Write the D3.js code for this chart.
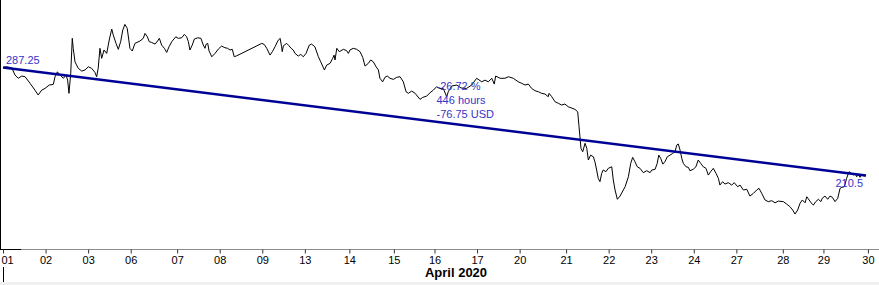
<!DOCTYPE html>
<html><head><meta charset="utf-8">
<script src="https://cdn.jsdelivr.net/npm/d3@7"></script>
<style>
html,body{margin:0;padding:0;background:#fff;overflow:hidden;}
svg{display:block;font-family:"Liberation Sans",Arial,sans-serif;}
</style></head><body>
<svg id="chart" width="879" height="285"></svg>
<script>
// [hour offset from 01 April session open, price in USD]
const priceSeries = [
[0,287.25],[1.9,287.8],[4.5,287.1],[6.2,281.9],[7.9,279.6],[9.7,281.2],[11.4,280.7],[14.0,276.0],[16.5,271.2],[18.2,267.7],[20.0,271.2],[21.7,272.4],[23.9,274.8],[26.0,275.3],[26.9,280.7],[28.1,284.2],[29.5,281.9],[31.2,279.6],[32.6,281.9],[33.4,278.3],[34.1,268.9],[35.0,283.1],[35.8,308.0],[36.3,300.9],[37.2,291.3],[38.9,286.7],[40.7,284.7],[42.4,285.5],[44.1,287.8],[45.8,286.7],[47.5,283.8],[48.4,280.7],[49.2,286.7],[50.1,300.9],[51.0,293.8],[52.2,299.7],[53.6,297.3],[54.9,306.8],[56.2,314.6],[57.0,310.3],[58.4,304.4],[59.6,300.2],[60.8,305.6],[61.9,313.9],[63.0,317.9],[64.2,315.1],[65.6,300.9],[66.8,299.0],[68.2,304.4],[70.8,306.1],[72.5,308.0],[73.4,311.5],[74.6,309.1],[75.6,305.6],
[76.8,305.1],[78.6,303.9],[79.9,306.1],[80.8,308.0],[82.0,303.2],[83.4,300.9],[84.6,298.0],[85.8,302.0],[87.2,305.6],[89.3,309.1],[90.6,308.0],[92.4,308.4],[93.7,310.8],[94.9,309.1],[95.8,305.6],[96.6,299.7],[97.8,303.2],[98.9,307.5],[100.6,308.4],[102.3,308.0],[103.5,303.2],[104.4,300.9],[104.9,303.7],[105.8,304.4],[106.5,299.0],[107.9,294.9],[109.6,297.3],[111.3,300.4],[113.0,302.5],[114.7,301.3],[116.1,300.9],[117.3,299.7],[118.5,300.2],[119.5,294.9],[120.8,295.6],[125.1,298.5],[130.2,302.0],[133.7,304.4],[135.0,303.7],[136.3,300.9],[138.0,296.1],[139.2,298.5],[140.6,302.0],[142.0,306.1],[143.2,308.0],[144.0,302.0],[144.3,298.5],[144.9,302.7],[146.6,304.4],[147.8,302.7],[148.9,300.9],[150.0,299.7],[150.9,297.3],
[152.6,295.4],[153.9,296.6],[155.2,294.9],[156.6,297.3],[158.3,303.2],[159.5,303.9],[161.2,302.0],[163.0,294.9],[164.2,291.3],[166.1,285.5],[167.3,289.0],[169.0,290.2],[170.4,293.8],[171.1,296.1],[171.6,292.6],[172.5,300.9],[173.8,298.5],[175.9,300.2],[177.6,299.2],[178.5,297.3],[179.3,299.7],[181.0,300.9],[182.8,300.2],[184.5,298.5],[185.9,294.5],[187.1,288.3],[188.8,290.2],[190.0,292.6],[191.4,291.3],[192.8,287.8],[194.0,285.5],[194.8,279.6],[196.2,277.1],[197.4,280.3],[198.6,281.2],[200.0,279.6],[201.7,278.8],[203.5,280.3],[205.2,280.7],[206.9,277.1],[208.3,270.0],[209.5,268.9],[211.2,270.5],[213.0,268.9],[214.1,267.0],[215.5,264.6],[216.9,266.0],[219.0,267.0],[220.7,269.3],[222.4,271.2],[224.1,273.6],[225.5,272.4],
[227.5,272.4],[229.3,266.5],[230.1,270.0],[231.9,274.1],[234.5,274.8],[236.7,272.7],[239.6,272.4],[242.2,274.8],[244.8,279.6],[247.4,277.1],[249.1,278.3],[250.8,277.1],[252.6,279.6],[253.9,275.5],[254.6,281.2],[256.9,279.6],[259.4,279.6],[261.2,280.7],[263.7,279.6],[266.3,277.1],[268.1,276.0],[269.8,274.8],[271.5,275.5],[273.2,272.4],[275.0,270.7],[276.7,270.0],[278.4,268.9],[280.1,268.4],[281.8,266.5],[282.2,268.9],[283.6,266.5],[285.3,262.9],[287.0,261.8],[288.7,260.6],[290.4,261.3],[292.1,259.4],[295.6,257.5],[297.0,255.8],[297.7,245.2],[298.7,229.8],[299.6,227.4],[300.8,233.4],[301.7,229.8],[302.5,221.5],[303.7,225.0],[305.1,223.8],[305.9,220.3],[306.8,214.4],[307.6,208.5],[308.5,206.1],[309.4,212.0],[310.2,214.4],[311.6,213.2],[312.8,215.6],[314.6,216.7],[315.4,207.3],[316.3,200.2],[317.5,193.6],[318.9,195.9],[320.6,200.2],[321.5,202.5],[323.2,209.6],[324.4,219.1],[325.4,223.4],[326.6,220.3],[327.8,216.7],[329.2,215.6],[330.9,212.5],[332.7,213.9],[334.4,212.5],[335.3,214.4],[337.0,214.9],[338.1,219.1],[338.9,225.0],[339.9,222.7],[341.0,218.6],[342.1,220.3],[343.3,223.8],[344.7,225.0],[346.1,226.2],[347.3,227.4],[348.2,232.1],[349.0,232.9],[349.9,228.6],[350.8,222.7],[351.6,219.1],[353.0,216.7],[354.2,216.3],[355.0,213.9],[356.7,214.9],[358.1,216.7],[359.3,221.5],[360.6,219.1],[361.9,216.7],[363.3,215.6],[364.5,210.8],[365.7,213.2],[367.1,215.6],[368.5,212.0],[369.7,208.5],[370.5,203.7],[371.9,206.1],[373.1,204.4],[374.8,205.4],[376.6,203.7],[377.9,205.4],[379.7,202.5],[380.9,203.7],[382.6,200.2],[384.4,200.7],[386.0,195.9],[387.8,197.8],[389.5,200.2],[390.7,201.4],[392.1,197.8],[393.8,193.1],[395.5,191.9],[397.3,192.6],[399.0,191.1],[400.7,192.3],[403.3,191.9],[405.0,190.2],[406.7,188.3],[408.1,186.0],[409.3,183.1],[410.7,186.0],[411.9,190.7],[413.1,193.1],[414.5,191.1],[415.4,195.4],[416.6,193.1],[417.6,191.1],[418.8,189.5],[420.0,191.9],[421.4,193.6],[422.7,191.9],[423.4,194.3],[424.8,195.9],[426.2,193.6],[427.4,195.9],[428.6,195.0],[430.0,191.9],[431.4,194.3],[432.6,201.4],[433.5,202.1],[434.8,202.5],[436.0,208.5],[437.2,213.2],[438.3,212.0],[439.4,210.8],[440.3,212.0],[441.2,209.6],[442.1,211.5],[442.9,209.2],[443.8,210.8],[445.1,210.1],[446,210.5]
];
const tickHours  = [0,22,44,66,90,112,134,156,179,202,223,245,267,291,313,335,357,379,403,424,447];
const tickLabels = ["01","02","03","06","07","08","09","13","14","15","16","17","20","21","22","23","24","27","28","29","30"];
const monthLabel = "April 2020";
const currency = "USD";
const priceDomain = [158.25, 335.25];
const hourDomain = [0, 446];

const W = 879, H = 285, plotBottom = 249;
const svg = d3.select("#chart");
const x = d3.scaleLinear().domain(hourDomain).range([3, 866]);
const y = d3.scaleLinear().domain(priceDomain).range([plotBottom, 0]);

svg.append("rect").attr("width", W).attr("height", H).attr("fill", "#fff");
svg.append("rect").attr("x", 0).attr("y", 282).attr("width", W).attr("height", 3).attr("fill", "#f0f0f0");

// axes frame
svg.append("line").attr("x1", 0.5).attr("x2", 0.5).attr("y1", 0).attr("y2", plotBottom + 0.5)
  .attr("stroke", "#000").attr("stroke-width", 1);
svg.append("line").attr("x1", 21).attr("x2", W).attr("y1", plotBottom + 0.5).attr("y2", plotBottom + 0.5)
  .attr("stroke", "#8c8c8c").attr("stroke-width", 1);
svg.append("line").attr("x1", 0).attr("x2", 21).attr("y1", plotBottom + 0.5).attr("y2", plotBottom + 0.5)
  .attr("stroke", "#000").attr("stroke-width", 1);

const axis = d3.axisBottom(x).tickValues(tickHours)
  .tickFormat((d, i) => tickLabels[i]).tickSize(4).tickPadding(3).tickSizeOuter(0);
const gx = svg.append("g").attr("transform", `translate(0,${plotBottom + 0.5})`).call(axis);
gx.select(".domain").remove();
gx.selectAll(".tick line").attr("stroke", "#333");
gx.selectAll(".tick text").attr("fill", "#000").attr("font-size", 11)
  .attr("font-family", '"Liberation Sans",Arial,sans-serif');
// first label sits inside the frame, starting at the left edge
gx.selectAll(".tick text").filter((d, i) => i === 0)
  .attr("text-anchor", "start").attr("x", -2);

svg.append("line").attr("x1", 3.5).attr("x2", 3.5).attr("y1", 267).attr("y2", 282)
  .attr("stroke", "#000").attr("stroke-width", 1);
svg.append("text").attr("x", 456).attr("y", 277).attr("text-anchor", "middle")
  .attr("font-size", 13).attr("font-weight", "bold").attr("fill", "#000").text(monthLabel);

// price line
const line = d3.line().x(d => x(d[0])).y(d => y(d[1]));
svg.append("path").datum(priceSeries).attr("d", line)
  .attr("fill", "none").attr("stroke", "#000").attr("stroke-width", 1);

// trend line from first to last close
const first = priceSeries[0], last = priceSeries[priceSeries.length - 1];
const x0 = x(first[0]), y0 = y(first[1]), x1 = x(last[0]), y1 = y(last[1]);
svg.append("line").attr("x1", x0).attr("y1", y0).attr("x2", x1).attr("y2", y1)
  .attr("stroke", "#000096").attr("stroke-width", 2.5);

const labelColor = "#3434c8";
svg.append("text").attr("x", x0 + 3).attr("y", y0 - 4).attr("font-size", 11)
  .attr("fill", labelColor).text(String(first[1]));
svg.append("text").attr("x", x1 - 3).attr("y", y1 + 11.5).attr("font-size", 11)
  .attr("text-anchor", "end").attr("fill", labelColor).text(String(last[1]));

const diff = last[1] - first[1];
const pct = diff / first[1] * 100;
const hrs = last[0] - first[0];
const mx = (x0 + x1) / 2, my = (y0 + y1) / 2;
const ann = [pct.toFixed(2) + " %", hrs + " hours", diff.toFixed(2) + " " + currency];
svg.append("g").selectAll("text").data(ann).join("text")
  .attr("x", mx + 2).attr("y", (d, i) => my - 3.5 - (ann.length - 1 - i) * 14)
  .attr("font-size", 11).attr("fill", labelColor).text(d => d);
</script>
</body></html>
